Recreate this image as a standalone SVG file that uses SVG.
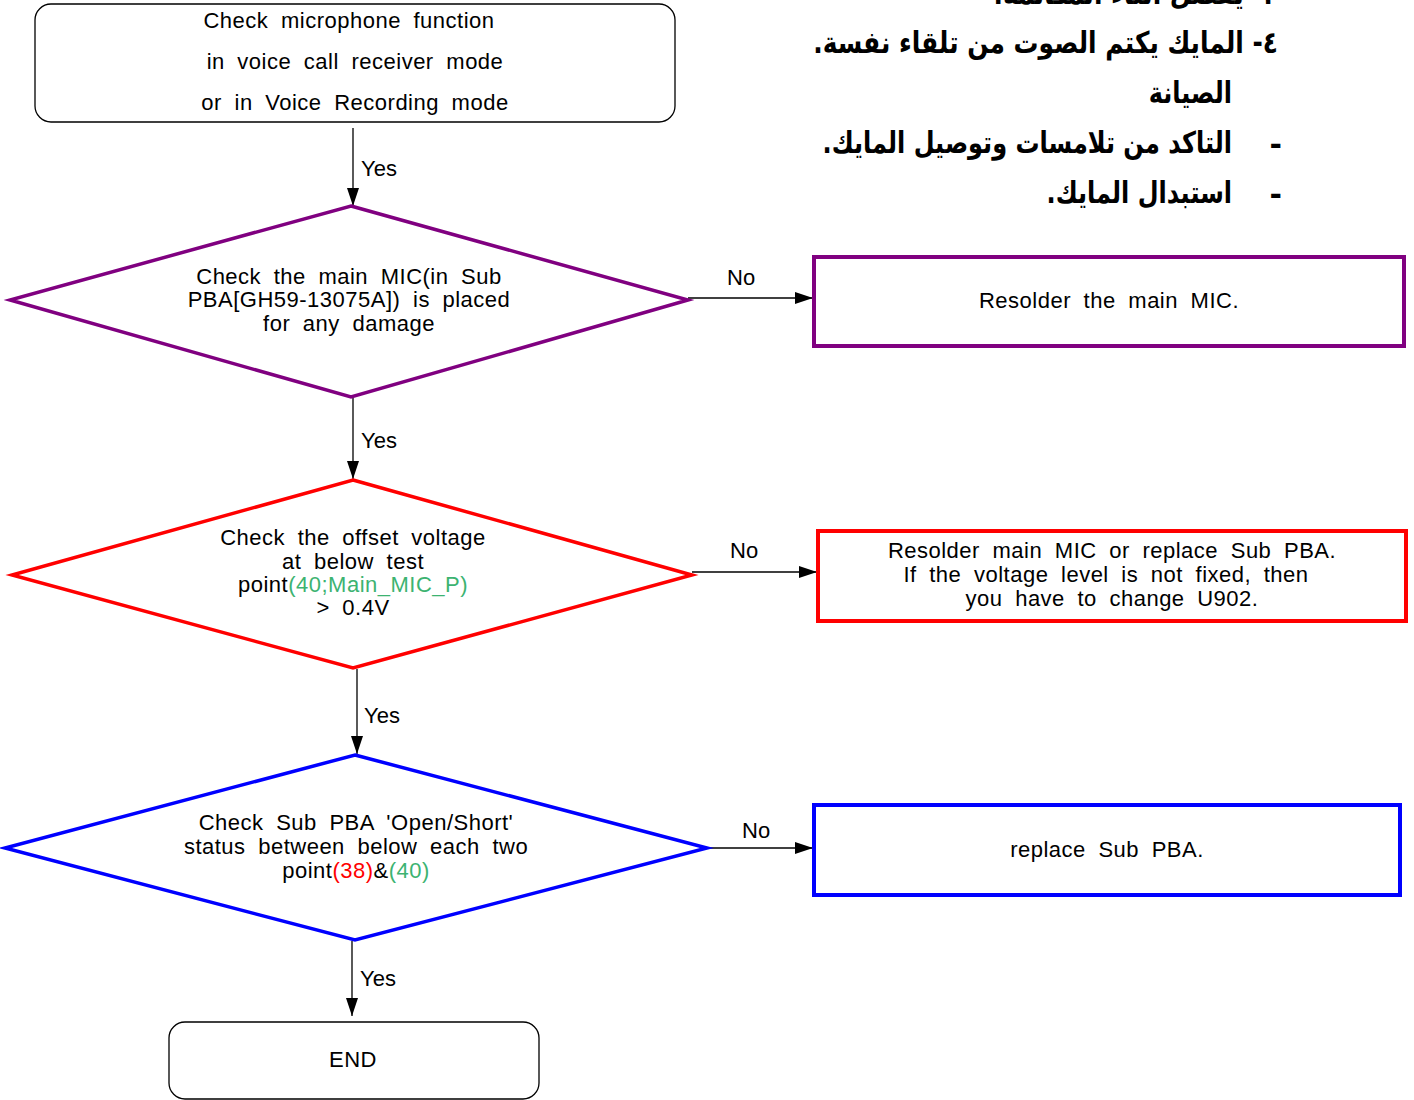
<svg xmlns="http://www.w3.org/2000/svg" width="1414" height="1100" viewBox="0 0 1414 1100">
<style>
.t{font-family:"Liberation Sans",Arial,sans-serif;font-size:22px;fill:#000;text-anchor:middle;word-spacing:6px;letter-spacing:0.5px}
.lbl{font-family:"Liberation Sans",Arial,sans-serif;font-size:22px;fill:#000}
.ar{font-family:"DejaVu Sans",sans-serif;font-size:30px;font-weight:bold;fill:#000}
.c{stroke:#000;stroke-width:1.3;fill:none}
.g{fill:#3cb371}
.r{fill:#ff0000}
</style>
<defs>
<marker id="ah" markerWidth="18" markerHeight="12" refX="18" refY="6" orient="auto" markerUnits="userSpaceOnUse">
<path d="M0,0 L18,6 L0,12 Z" fill="#000"/>
</marker>
</defs>
<rect width="1414" height="1100" fill="#fff"/>

<g id="arabic-notes">
<g transform="translate(1278,0) scale(0.83,1)">
<text class="ar" x="0" y="4" direction="rtl" text-anchor="start">٣- يفصل أثناء المكالمة.</text>
<text class="ar" x="0" y="53" direction="rtl" text-anchor="start">٤- المايك يكتم الصوت من تلقاء نفسة.</text>
</g>
<g transform="translate(1232,0) scale(0.8,1)">
<text class="ar" x="0" y="103" direction="rtl" text-anchor="start">الصيانة</text>
<text class="ar" x="0" y="153" direction="rtl" text-anchor="start">التاكد من تلامسات وتوصيل المايك.</text>
<text class="ar" x="0" y="203" direction="rtl" text-anchor="start">استبدال المايك.</text>
</g>
<text class="ar" x="1282" y="155" text-anchor="end">-</text>
<text class="ar" x="1282" y="205" text-anchor="end">-</text>
</g>

<g id="connectors">
<line class="c" x1="353" y1="128" x2="353" y2="206" marker-end="url(#ah)"/>
<text class="lbl" x="361" y="176">Yes</text>
<line class="c" x1="688" y1="298" x2="813" y2="298" marker-end="url(#ah)"/>
<text class="lbl" x="727" y="285">No</text>
<line class="c" x1="353" y1="398" x2="353" y2="479" marker-end="url(#ah)"/>
<text class="lbl" x="361" y="448">Yes</text>
<line class="c" x1="692" y1="572" x2="817" y2="572" marker-end="url(#ah)"/>
<text class="lbl" x="730" y="558">No</text>
<line class="c" x1="357" y1="669" x2="357" y2="754" marker-end="url(#ah)"/>
<text class="lbl" x="364" y="723">Yes</text>
<line class="c" x1="707" y1="848" x2="813" y2="848" marker-end="url(#ah)" stroke="#555"/>
<text class="lbl" x="742" y="838">No</text>
<line class="c" x1="352" y1="941" x2="352" y2="1016" marker-end="url(#ah)"/>
<text class="lbl" x="360" y="986">Yes</text>
</g>

<g id="start">
<rect x="35" y="4" width="640" height="118" rx="16" fill="#fff" stroke="#000" stroke-width="1.3"/>
<text class="t" x="349" y="28">Check microphone function</text>
<text class="t" x="355" y="69">in voice call receiver mode</text>
<text class="t" x="355" y="110">or in Voice Recording mode</text>
</g>

<g id="decision1">
<polygon points="351,206 688,300 351,397 10,300" fill="#fff" stroke="#800080" stroke-width="3.5"/>
<text class="t" x="349" y="284">Check the main MIC(in Sub</text>
<text class="t" x="349" y="307">PBA[GH59-13075A]) is placed</text>
<text class="t" x="349" y="331">for any damage</text>
</g>

<g id="action1">
<rect x="814" y="257" width="590" height="89" fill="#fff" stroke="#800080" stroke-width="4"/>
<text class="t" x="1109" y="308">Resolder the main MIC.</text>
</g>

<g id="decision2">
<polygon points="353,480 692,575 353,668 12,575" fill="#fff" stroke="#ff0000" stroke-width="3.5"/>
<text class="t" x="353" y="545">Check the offset voltage</text>
<text class="t" x="353" y="569">at below test</text>
<text class="t" x="353" y="592">point<tspan class="g">(40;Main_MIC_P)</tspan></text>
<text class="t" x="353" y="615">&gt; 0.4V</text>
</g>

<g id="action2">
<rect x="818" y="531" width="588" height="90" fill="#fff" stroke="#ff0000" stroke-width="4"/>
<text class="t" x="1112" y="558">Resolder main MIC or replace Sub PBA.</text>
<text class="t" x="1106" y="582">If the voltage level is not fixed, then</text>
<text class="t" x="1112" y="606">you have to change U902.</text>
</g>

<g id="decision3">
<polygon points="355,755 707,848 355,940 5,848" fill="#fff" stroke="#0000ff" stroke-width="3.5"/>
<text class="t" x="356" y="830">Check Sub PBA 'Open/Short'</text>
<text class="t" x="356" y="854">status between below each two</text>
<text class="t" x="356" y="878">point<tspan class="r">(38)</tspan>&amp;<tspan class="g">(40)</tspan></text>
</g>

<g id="action3">
<rect x="814" y="805" width="586" height="90" fill="#fff" stroke="#0000ff" stroke-width="4"/>
<text class="t" x="1107" y="857">replace Sub PBA.</text>
</g>

<g id="end">
<rect x="169" y="1022" width="370" height="77" rx="16" fill="#fff" stroke="#000" stroke-width="1.3"/>
<text class="t" x="353" y="1067">END</text>
</g>
</svg>
